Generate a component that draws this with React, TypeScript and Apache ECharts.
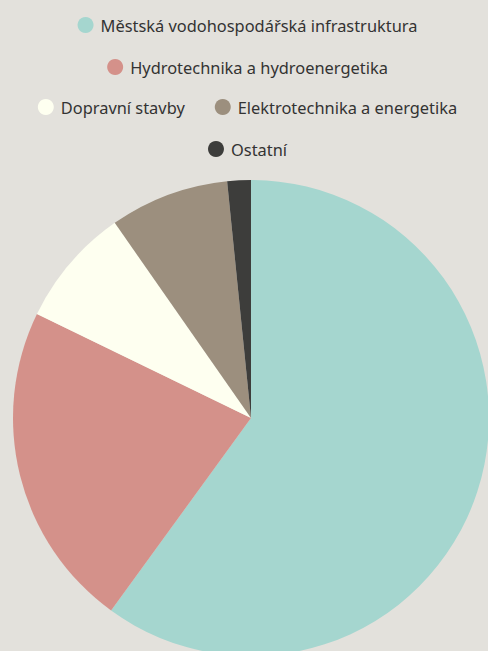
import React, { useEffect, useRef } from "react";
import * as echarts from "echarts";

const categories = [
  "Městská vodohospodářská infrastruktura",
  "Hydrotechnika a hydroenergetika",
  "Dopravní stavby",
  "Elektrotechnika a energetika",
  "Ostatní",
];
const values = [60, 22.2, 8.1, 8.1, 1.6];
const colors = ["#a5d6cf", "#d4918a", "#fefff0", "#9c8f7e", "#3d3d3b"];
const legendRows = [[0], [1], [2, 3], [4]];
const legendTops = [15, 57, 97, 139];

export default function App() {
  const ref = useRef<HTMLDivElement>(null);
  useEffect(() => {
    document.body.style.margin = "0";
    document.body.style.overflow = "hidden";
    document.body.style.background = "#e3e1dc";
    const chart = echarts.init(ref.current!, undefined, { renderer: "svg" });
    chart.setOption({
      animation: false,
      backgroundColor: "#e3e1dc",
      color: colors,
      legend: legendRows.map((row, r) => ({
        left: "center",
        top: legendTops[r],
        padding: 0,
        icon: "circle",
        itemWidth: 16,
        itemHeight: 16,
        itemGap: 30,
        textStyle: {
          fontFamily: "Noto Sans",
          fontSize: 16.4,
          color: "#333333",
          lineHeight: 20,
          padding: [0, 0, 0, 2],
        },
        data: row.map((i) => categories[i]),
      })),
      series: [
        {
          type: "pie",
          center: [251, 418],
          radius: 238,
          startAngle: 90,
          clockwise: true,
          label: { show: false },
          labelLine: { show: false },
          itemStyle: { borderWidth: 0 },
          data: categories.map((c, i) => ({ name: c, value: values[i] })),
        },
      ],
    });
    return () => chart.dispose();
  }, []);
  return <div ref={ref} style={{ width: 495, height: 651 }} />;
}
